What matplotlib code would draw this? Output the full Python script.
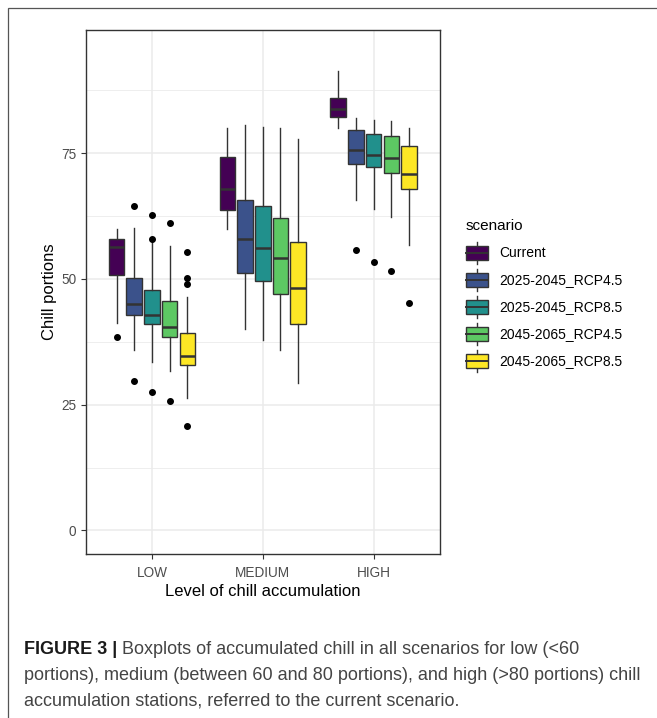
import matplotlib

matplotlib.use("Agg")
import matplotlib.pyplot as plt
from matplotlib import font_manager
from matplotlib.legend_handler import HandlerBase
from matplotlib.lines import Line2D
from matplotlib.patches import Patch, Rectangle

categories = ["LOW", "MEDIUM", "HIGH"]
scenarios = ["Current", "2025-2045_RCP4.5", "2025-2045_RCP8.5", "2045-2065_RCP4.5", "2045-2065_RCP8.5"]
colors = ["#440154", "#3B528B", "#21908C", "#5DC863", "#FDE725"]

# rows = scenario, columns = category (LOW, MEDIUM, HIGH)
whisker_low = [
    [41.2, 60.0, 80.1],
    [35.9, 40.1, 65.6],
    [33.5, 37.9, 64.0],
    [31.7, 35.8, 62.4],
    [26.3, 29.4, 56.8],
]
q1 = [
    [50.7, 63.8, 82.2],
    [42.9, 51.1, 72.9],
    [41.0, 49.5, 72.3],
    [38.5, 47.1, 71.0],
    [32.8, 41.0, 67.8],
]
median = [
    [56.3, 67.8, 83.8],
    [45.1, 57.9, 75.7],
    [42.8, 56.1, 74.7],
    [40.5, 54.2, 74.1],
    [34.6, 48.1, 70.9],
]
q3 = [
    [57.9, 74.3, 86.0],
    [50.1, 65.7, 79.7],
    [47.8, 64.6, 78.9],
    [45.7, 62.2, 78.4],
    [39.2, 57.3, 76.4],
]
whisker_high = [
    [60.0, 80.0, 91.4],
    [60.2, 80.7, 82.1],
    [57.3, 80.3, 81.6],
    [56.5, 80.0, 81.4],
    [46.4, 77.9, 80.0],
]
outliers = [
    [[38.5], [], []],
    [[64.6, 29.7], [], [55.7]],
    [[62.7, 58.0, 27.5], [], [53.4]],
    [[61.1, 25.7], [], [51.5]],
    [[55.3, 50.1, 48.9, 20.7], [], [45.2]],
]

caption_bold = "FIGURE 3 |"
caption_lines = [
    " Boxplots of accumulated chill in all scenarios for low (<60",
    "portions), medium (between 60 and 80 portions), and high (>80 portions) chill",
    "accumulation stations, referred to the current scenario.",
]


def has_font(name):
    try:
        font_manager.findfont(name, fallback_to_default=False)
        return True
    except ValueError:
        return False


plt.rcParams["font.family"] = ["Liberation Sans", "DejaVu Sans"]
caption_font = "Liberation Sans Narrow" if has_font("Liberation Sans Narrow") else "Liberation Sans"


class BoxKey(HandlerBase):
    # legend key that looks like a small ggplot boxplot
    def create_artists(self, legend, orig_handle, xdescent, ydescent, width, height, fontsize, trans):
        x0, y0 = -xdescent, -ydescent
        cx = x0 + width / 2
        whisk = Line2D([cx, cx], [y0, y0 + height], color="#333333", lw=1.0, transform=trans)
        box = Rectangle((x0, y0 + 0.18 * height), width, 0.64 * height,
                        facecolor=orig_handle.get_facecolor(), edgecolor="#333333", lw=1.0, transform=trans)
        med = Line2D([x0, x0 + width], [y0 + height / 2] * 2, color="#333333", lw=1.4, transform=trans)
        return [whisk, box, med]


fig = plt.figure(figsize=(6.57, 7.18), dpi=100)
ax = fig.add_axes([85.5 / 657, 1 - 554 / 718, 354.5 / 657, 524 / 718])

offsets = [-0.32, -0.16, 0.0, 0.16, 0.32]
for i, name in enumerate(scenarios):
    stats = []
    for j in range(len(categories)):
        stats.append({
            "whislo": whisker_low[i][j], "q1": q1[i][j], "med": median[i][j],
            "q3": q3[i][j], "whishi": whisker_high[i][j], "fliers": outliers[i][j],
        })
    ax.bxp(
        stats, positions=[j + 1 + offsets[i] for j in range(len(categories))], widths=0.14,
        patch_artist=True, showcaps=False, zorder=3,
        boxprops=dict(facecolor=colors[i], edgecolor="#333333", lw=1.0),
        whiskerprops=dict(color="#333333", lw=1.0),
        medianprops=dict(color="#333333", lw=1.8),
        flierprops=dict(marker="o", markerfacecolor="black", markeredgecolor="black", markersize=4),
    )

ax.set_xlim(0.4, 3.6)
ax.set_ylim(-4.7, 99.5)
ax.set_xticks([1, 2, 3])
ax.set_xticklabels(categories)
ax.set_yticks([0, 25, 50, 75])
ax.set_yticks([12.5, 37.5, 62.5, 87.5], minor=True)
ax.grid(True, which="major", color="#EBEBEB", lw=1.1, zorder=0)
ax.grid(True, which="minor", axis="y", color="#EBEBEB", lw=0.6, zorder=0)
ax.set_axisbelow(True)
ax.tick_params(which="major", direction="out", length=3.5, width=0.8, color="#333333",
               labelcolor="#4D4D4D", labelsize=9.8, pad=3)
ax.tick_params(axis="x", which="major", pad=4.8)
ax.tick_params(which="minor", length=0)
for s in ax.spines.values():
    s.set_color("#333333")
    s.set_linewidth(1.0)

ax.set_ylabel("Chill portions", fontsize=12, labelpad=3)
ax.set_xlabel("Level of chill accumulation", fontsize=12, labelpad=3.5)

handles = [Patch(facecolor=c) for c in colors]
leg = fig.legend(handles, scenarios, handler_map={Patch: BoxKey()}, loc="upper left",
                 bbox_to_anchor=(466 / 657, 1 - 219 / 718), frameon=False, fontsize=10,
                 title="scenario", title_fontsize=11, borderpad=0, borderaxespad=0,
                 handlelength=1.58, handleheight=2.06, labelspacing=0.36, handletextpad=0.8,
                 alignment="left")
leg._legend_box.sep = 6.5  # gap between title and keys, points

# outer frame of the figure panel
fig.patches.append(Rectangle((8 / 657, -0.1), 1.2, 1 - 8 / 718 + 0.1, transform=fig.transFigure,
                             fill=False, edgecolor="#555555", lw=0.9))

# caption
bold = fig.text(24 / 657, 1 - 654 / 718, caption_bold, fontsize=13, fontweight="bold",
                family=caption_font, color="#1a1a1a", va="baseline")
fig.canvas.draw()
bb = bold.get_window_extent()
fig.text(bb.x1 / 657, 1 - 654 / 718, caption_lines[0], fontsize=13, family=caption_font,
         color="#444444", va="baseline")
fig.text(24 / 657, 1 - 680 / 718, caption_lines[1], fontsize=13, family=caption_font,
         color="#444444", va="baseline")
fig.text(24 / 657, 1 - 705 / 718, caption_lines[2], fontsize=13, family=caption_font,
         color="#444444", va="baseline")

fig.savefig("out.png", dpi=100, facecolor="white")
